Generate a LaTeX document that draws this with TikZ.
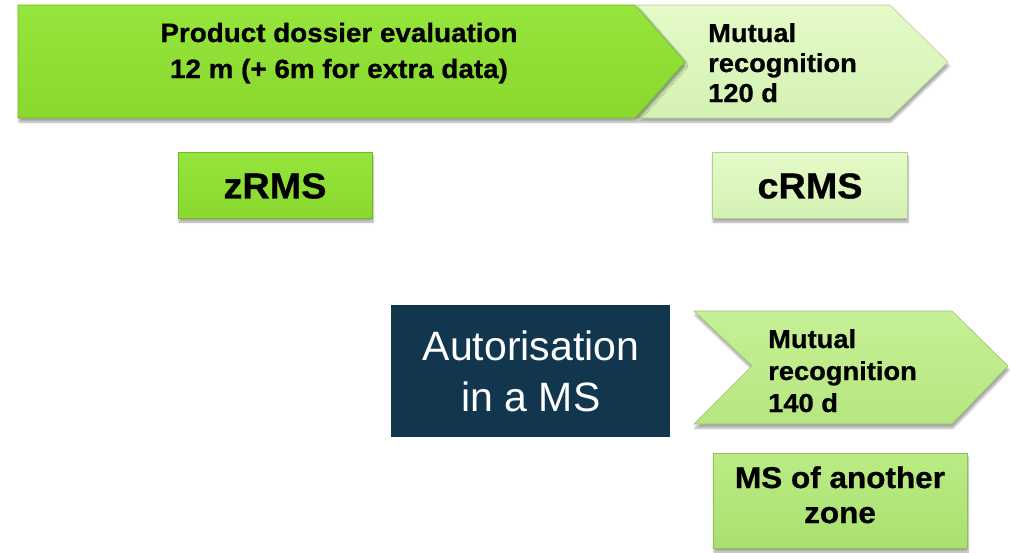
\documentclass[tikz,border=0pt]{standalone}
\usepackage{fontspec}
\setmainfont{Liberation Sans}
\newfontfamily\widesans[FakeStretch=1.05,FakeBold=0.8]{Liberation Sans}
\usetikzlibrary{shadows.blur}
\definecolor{brightT}{RGB}{150,229,60}
\definecolor{brightB}{RGB}{136,216,46}
\definecolor{paleT}{RGB}{228,250,200}
\definecolor{paleB}{RGB}{212,242,178}
\definecolor{midT}{RGB}{198,240,150}
\definecolor{midB}{RGB}{182,230,128}
\definecolor{zoneT}{RGB}{186,236,132}
\definecolor{zoneB}{RGB}{170,224,112}
\definecolor{navy}{RGB}{18,54,77}
\begin{document}
\begin{tikzpicture}[x=1pt,y=-1pt,
  shade/.style={blur shadow={shadow xshift=1pt,shadow yshift=-4pt,shadow blur steps=6,shadow opacity=35}},
  bright/.style={shade,top color=brightT,bottom color=brightB,draw=brightB!85!black,line width=0.6pt},
  pale/.style={shade,top color=paleT,bottom color=paleB,draw=paleB!85!black,line width=0.6pt},
  mid/.style={shade,top color=midT,bottom color=midB,draw=midB!85!black,line width=0.6pt},
  zone/.style={shade,top color=zoneT,bottom color=zoneB,draw=zoneB!85!black,line width=0.6pt},
  lbl/.style={inner sep=0pt,font=\widesans\bfseries\fontsize{26}{30}\selectfont,align=left,anchor=base west},
]
\useasboundingbox (0,0) rectangle (1010,552);
% top chevron (behind big arrow)
\path[pale] (637,5) -- (890,5) -- (948,62) -- (890,118) -- (637,118) -- (687,62) -- cycle;
% big arrow
\path[bright] (18,5) -- (635,5) -- (685,62) -- (635,118) -- (18,118) -- cycle;
\node[inner sep=0pt,font=\widesans\bfseries\fontsize{26.5}{36}\selectfont,align=center,anchor=base] (dossier) at (339,78) {Product dossier evaluation\\12 m (+ 6m for extra data)};
\node[lbl] (mr1) at (708,102) {Mutual\\recognition\\120 d};
% RMS boxes
\path[bright] (178,152) rectangle (372,218);
\node[font=\widesans\bfseries\fontsize{36}{40}\selectfont] (zrms) at (275,186) {zRMS};
\path[pale] (712,152) rectangle (907,218);
\node[font=\widesans\bfseries\fontsize{36}{40}\selectfont] (crms) at (810,186) {cRMS};
% autorisation
\fill[navy] (391,305) rectangle (670,437);
\node[text=white,font=\fontsize{41}{51}\selectfont,align=center,inner sep=0pt,anchor=base] (auth) at (531,411) {Autorisation\\in a MS};
% lower chevron
\path[mid] (694,311) -- (952,311) -- (1008,366) -- (952,424) -- (694,424) -- (752,366) -- cycle;
\node[lbl,font=\widesans\bfseries\fontsize{26}{32}\selectfont] (mr2) at (768,412) {Mutual\\recognition\\140 d};
% MS of another zone
\path[zone] (713,453) rectangle (967,548);
\node[inner sep=0pt,font=\widesans\bfseries\fontsize{30}{35}\selectfont,align=center,anchor=base] (zone) at (840,523) {MS of another\\zone};
\end{tikzpicture}
\end{document}
